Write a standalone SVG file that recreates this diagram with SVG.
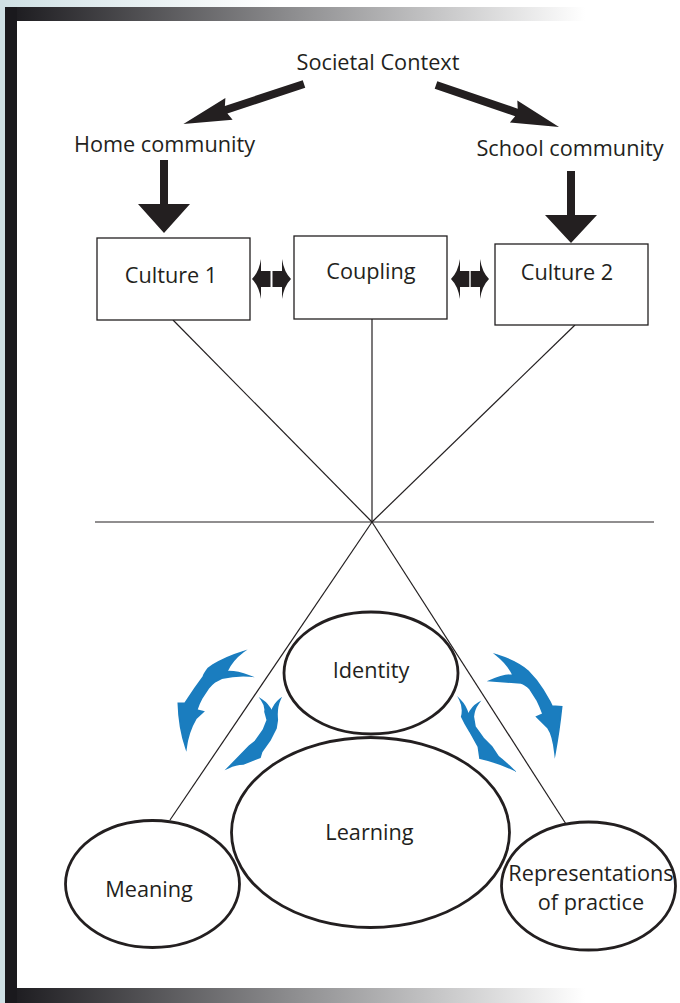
<svg xmlns="http://www.w3.org/2000/svg" width="680" height="1003" viewBox="0 0 680 1003">
<defs>
<linearGradient id="barH" x1="5" y1="0" x2="585" y2="0" gradientUnits="userSpaceOnUse">
<stop offset="0" stop-color="#1a191d"/><stop offset="0.5" stop-color="#8e8e90"/><stop offset="1" stop-color="#ffffff"/>
</linearGradient>
<linearGradient id="bg" x1="0" y1="0" x2="280" y2="0" gradientUnits="userSpaceOnUse">
<stop offset="0" stop-color="#cfe0e4"/><stop offset="1" stop-color="#ffffff"/>
</linearGradient>
<style>
.t{font-family:"Open Sans","Liberation Sans",sans-serif;font-size:21.7px;fill:#231f20;text-anchor:middle}
.box{fill:#fff;stroke:#231f20;stroke-width:1.3}
.ln{stroke:#231f20;stroke-width:1.2;fill:none}
.ell{fill:#fff;stroke:#231f20;stroke-width:2.8}
.blk{fill:#231f20}
.blue{fill:#1a7dbf;stroke:#1a7dbf;stroke-width:1.6;stroke-linejoin:miter;stroke-miterlimit:10}
</style>
</defs>
<rect x="0" y="0" width="680" height="1003" fill="#fff"/>
<rect x="0" y="0" width="680" height="7" fill="url(#bg)"/>
<rect x="0" y="0" width="5" height="1003" fill="#cfe0e4"/>
<rect x="5" y="7" width="675" height="14" fill="url(#barH)"/>
<rect x="5" y="988" width="675" height="15" fill="url(#barH)"/>
<rect x="5" y="7" width="12" height="996" fill="#1a191d"/>

<g id="connectors">
<line class="ln" x1="173" y1="320" x2="372" y2="522"/>
<line class="ln" x1="372" y1="319" x2="372" y2="522" stroke-width="2"/>
<line class="ln" x1="575" y1="325" x2="372" y2="522"/>
<line class="ln" x1="95" y1="522" x2="654" y2="522" stroke-width="2.8"/>
<line class="ln" x1="372" y1="522" x2="170" y2="820"/>
<line class="ln" x1="372" y1="522" x2="566" y2="824"/>
<polygon class="blk" transform="translate(304,84) rotate(161.7)" points="0,-4 82,-4 79,-11.5 127,0 79,11.5 82,4 0,4"/>
<polygon class="blk" transform="translate(436,85) rotate(18.85)" points="0,-4 85,-4 82,-11.5 130,0 82,11.5 85,4 0,4"/>
<polygon class="blk" points="160,160 168,160 168,204 190,204 164,233 138,204 160,204"/>
<polygon class="blk" points="567,171 575,171 575,215 597,215 571,243 545,215 567,215"/>
<path class="blk" d="M252,279 Q259,272 261,259 L261,271 L270.5,271 L270.5,287 L261,287 L261,299 Q259,286 252,279 Z M291,279 Q284,272 282,259 L282,271 L272.5,271 L272.5,287 L282,287 L282,299 Q284,286 291,279 Z"/>
<path class="blk" d="M451,279 Q458,272 460,259 L460,271 L469.3,271 L469.3,287 L460,287 L460,299 Q458,286 451,279 Z M489,279 Q482,272 480,259 L480,271 L470.7,271 L470.7,287 L480,287 L480,299 Q482,286 489,279 Z"/>
<path class="blue" d="M243.3,651.7 Q226,657 213,665 L208.3,668.3 Q204,674 203.3,676.7 L195,688.3 L188.3,698.3 L185,703.3 L178.3,703.3 Q179,728 186,748.3 Q188,732 196,718.3 L203.3,711.7 L196.7,710 Q199,703 201.7,698.3 L208.3,688.3 Q212,684 215,681.7 L221.7,678.3 Q236,675 249.3,676 Q236,671 226.7,671.7 Q232,660 243.3,651.7 Z"/>
<path class="blue" d="M261.7,700 Q266,706 265,711.7 L267.3,720 L263.3,730 L255,741.7 L249.3,746 L228.3,767.7 Q236,764 243.3,764 L260,757.3 L261.7,751.7 L270,740 L276,728.3 L277.3,720 Q276,708 280,699.3 Q274,704 271.7,711.7 Q268,704 261.7,700 Z"/>
<path class="blue" d="M496.7,655 Q516,661 528,671 Q537,680 543,690 L550,702 L552,706 L561.7,706.7 Q559,732 555,753.3 Q553,735 548,728 L536.7,716.7 L543,714 Q540,706 537,700 L530,689 Q525,684 521,683 L490,680.7 Q503,675 513,675 Q508,664 496.7,655 Z"/>
<path class="blue" d="M460,700 Q464,708 461.7,716.7 Q465,724 470,731.7 L478.3,746.7 L480,758.3 Q497,762 512.7,769.3 Q504,761 498.3,756.7 L491.7,746.7 L483.3,738.3 L475,726.7 L473.3,716.7 Q474,709 478.3,703.3 Q472,707 468.3,715 Q466,706 460,700 Z"/>
</g>

<g id="societal"><text class="t" x="378" y="70">Societal Context</text></g>
<g id="home"><text class="t" x="164.5" y="152">Home community</text></g>
<g id="school"><text class="t" x="570" y="156">School community</text></g>
<g id="culture1"><rect class="box" x="97" y="238" width="153" height="82"/><text class="t" x="171" y="283">Culture 1</text></g>
<g id="coupling"><rect class="box" x="294" y="236" width="153" height="83"/><text class="t" x="371" y="279">Coupling</text></g>
<g id="culture2"><rect class="box" x="495" y="244" width="153" height="81"/><text class="t" x="567" y="280">Culture 2</text></g>
<g id="identity"><ellipse class="ell" cx="371" cy="673" rx="87" ry="61"/><text class="t" x="371" y="678">Identity</text></g>
<g id="learning"><ellipse class="ell" cx="370.5" cy="832.5" rx="139" ry="95" stroke-width="5"/><text class="t" x="369.5" y="840">Learning</text></g>
<g id="meaning"><ellipse class="ell" cx="152.5" cy="884" rx="87" ry="63.5"/><text class="t" x="149" y="897">Meaning</text></g>
<g id="representations"><ellipse class="ell" cx="588.5" cy="886" rx="87" ry="64"/><text class="t" x="591" y="881">Representations</text><text class="t" x="591" y="910">of practice</text></g>
</svg>
